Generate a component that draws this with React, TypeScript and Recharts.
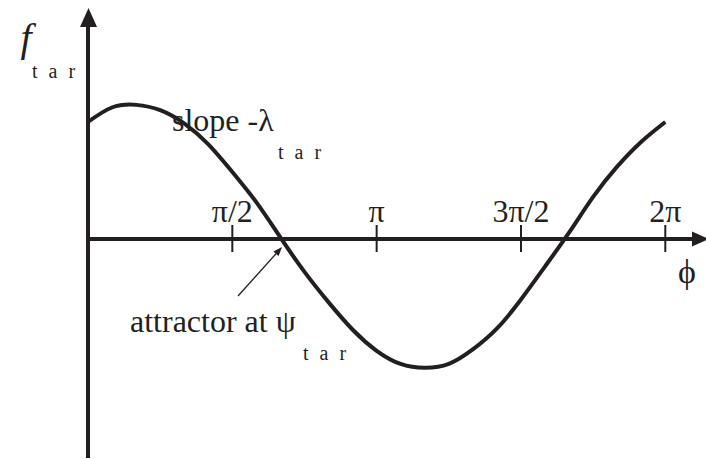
import { LineChart, Line, XAxis, YAxis, ReferenceLine, ReferenceDot } from 'recharts'

// phase samples, in units of pi
const PHI = [
  0, 0.083, 0.167, 0.25, 0.333, 0.417, 0.5, 0.583, 0.667, 0.75, 0.833, 0.917, 1,
  1.083, 1.167, 1.25, 1.333, 1.417, 1.5, 1.583, 1.667, 1.75, 1.833, 1.917, 2
]

// f_tar sampled along phi
const F_TAR = [
  0.89, 1.0, 1.02, 0.98, 0.88, 0.72, 0.51, 0.28, 0.01, -0.25, -0.48, -0.69, -0.85,
  -0.95, -0.98, -0.95, -0.84, -0.68, -0.46, -0.21, 0.05, 0.32, 0.55, 0.74, 0.89
]

const TICK_VALUES = [0.5, 1, 1.5, 2]
const TICK_LABELS = ['π/2', 'π', '3π/2', '2π']

const data = PHI.map((phi, i) => ({ phi, f: F_TAR[i] }))

const W = 706
const H = 459
const INK = '#231f20'
const SERIF = 'Liberation Serif, DejaVu Serif, serif'

// pixel <-> data helpers for the annotation layer
const X_ORIGIN = 88
const X_PX = 288.65
const Y_ORIGIN = 239
const Y_PX = 131.5
const toX = (px: number) => (px - X_ORIGIN) / X_PX
const toY = (py: number) => (Y_ORIGIN - py) / Y_PX

const X_DOMAIN: [number, number] = [toX(0), toX(W)]
const Y_DOMAIN: [number, number] = [toY(H), toY(0)]

type TextOpts = { size?: number; anchor?: 'start' | 'middle' | 'end'; italic?: boolean; spacing?: number }

function label(key: string, px: number, py: number, text: string, opts: TextOpts = {}) {
  const { size = 32, anchor = 'start', italic = false, spacing = 0 } = opts
  return (
    <ReferenceDot
      key={key}
      x={toX(px)}
      y={toY(py)}
      r={0}
      shape={(p: any) => (
        <text
          x={p.cx}
          y={p.cy}
          textAnchor={anchor}
          style={{
            fontFamily: SERIF,
            fontSize: size,
            fontStyle: italic ? 'italic' : 'normal',
            letterSpacing: spacing
          }}
          fill={INK}
        >
          {text}
        </text>
      )}
    />
  )
}

function arrowHead(key: string, px: number, py: number, points: string) {
  return (
    <ReferenceDot
      key={key}
      x={toX(px)}
      y={toY(py)}
      r={0}
      shape={(p: any) => (
        <polygon transform={`translate(${p.cx},${p.cy})`} points={points} fill={INK} />
      )}
    />
  )
}

export default function App() {
  return (
    <div style={{ position: 'absolute', left: 0, top: 0, background: '#fff' }}>
      <LineChart width={W} height={H} data={data} margin={{ top: 0, right: 0, bottom: 0, left: 0 }}>
        <XAxis dataKey="phi" type="number" domain={X_DOMAIN} allowDataOverflow hide />
        <YAxis type="number" domain={Y_DOMAIN} allowDataOverflow hide />

        {/* axes */}
        <ReferenceLine
          segment={[{ x: 0, y: toY(458) }, { x: 0, y: toY(25) }]}
          stroke={INK}
          strokeWidth={4}
        />
        <ReferenceLine
          segment={[{ x: toX(86), y: 0 }, { x: toX(694), y: 0 }]}
          stroke={INK}
          strokeWidth={4}
        />
        {arrowHead('yArrow', 88.5, 8, '0,0 -8.5,19 8.5,19')}
        {arrowHead('xArrow', 692, 239, '0,-7.5 17,0 0,7.5')}

        {TICK_VALUES.map(v => (
          <ReferenceLine
            key={`tick-${v}`}
            segment={[{ x: v, y: toY(225) }, { x: v, y: toY(252) }]}
            stroke={INK}
            strokeWidth={2}
          />
        ))}
        {TICK_VALUES.map((v, i) => (
          <ReferenceDot
            key={`tl-${v}`}
            x={v}
            y={toY(222)}
            r={0}
            shape={(p: any) => (
              <text
                x={p.cx}
                y={p.cy}
                textAnchor="middle"
                style={{ fontFamily: SERIF, fontSize: 32 }}
                fill={INK}
              >
                {TICK_LABELS[i]}
              </text>
            )}
          />
        ))}

        <Line
          type="natural"
          dataKey="f"
          stroke={INK}
          strokeWidth={4}
          dot={false}
          activeDot={false}
          isAnimationActive={false}
        />

        {/* annotations */}
        {label('f', 26, 51, 'f', { size: 40, anchor: 'middle', italic: true })}
        {label('fSub', 32, 78, 't a r', { size: 20, spacing: 3 })}
        {label('phi', 687, 283, 'ϕ', { size: 34, anchor: 'middle' })}
        {label('slope', 172, 131, 'slope -λ')}
        {label('slopeSub', 278, 159, 't a r', { size: 20, spacing: 3 })}
        {label('attr', 130, 332, 'attractor at ψ')}
        {label('attrSub', 303, 360, 't a r', { size: 20, spacing: 3 })}

        <ReferenceLine
          segment={[{ x: toX(238), y: toY(296) }, { x: toX(278), y: toY(251.5) }]}
          stroke={INK}
          strokeWidth={1.3}
        />
        {arrowHead('pointer', 282, 247, '0,0 -3.4,9 -8.6,4.4')}
      </LineChart>
    </div>
  )
}
